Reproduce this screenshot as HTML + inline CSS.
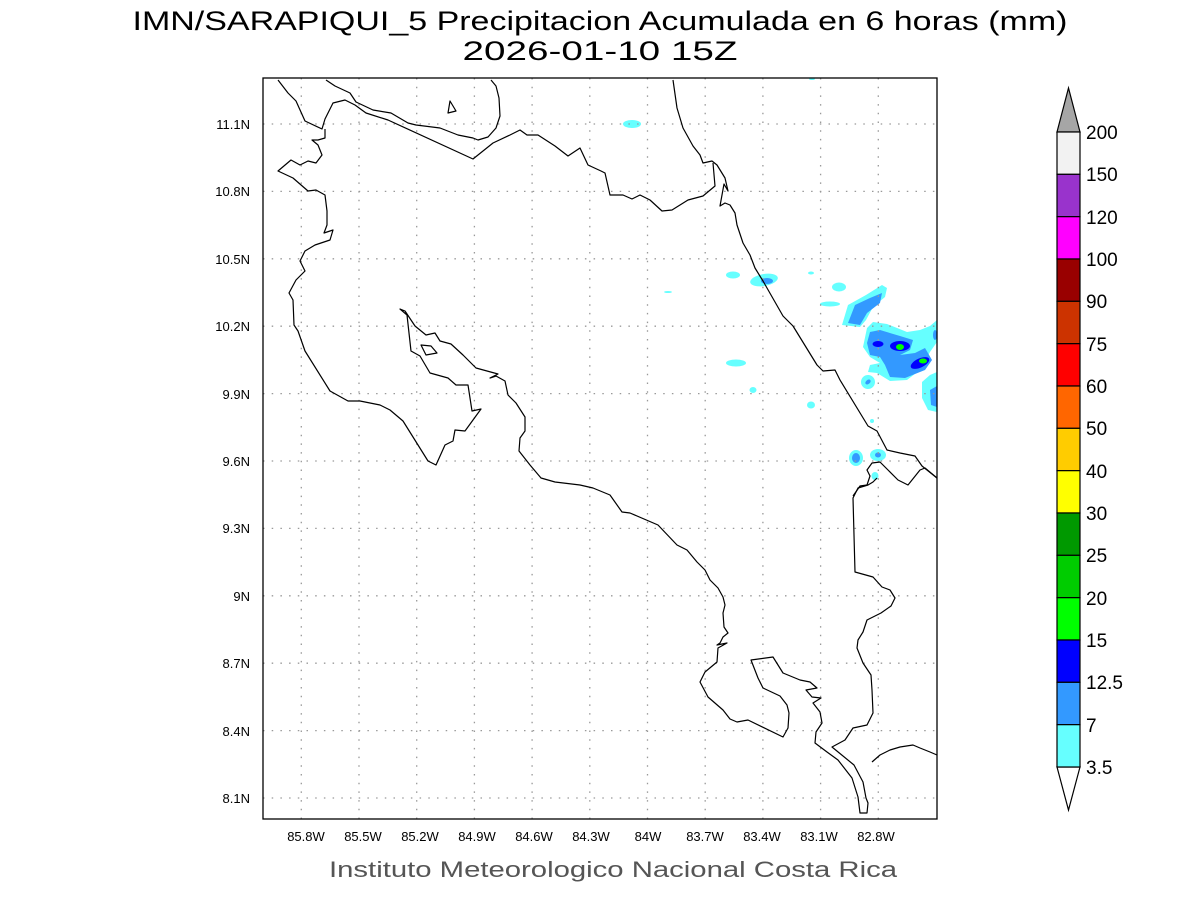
<!DOCTYPE html>
<html><head><meta charset="utf-8"><style>
html,body{margin:0;padding:0;background:#fff;width:1200px;height:900px;overflow:hidden}
svg{display:block}
</style></head><body>
<svg width="1200" height="900" viewBox="0 0 1200 900" xmlns="http://www.w3.org/2000/svg">
<rect width="1200" height="900" fill="#fff"/>
<g font-family="Liberation Sans, sans-serif" fill="#000">
<text x="600" y="30" font-size="27" text-anchor="middle" textLength="935" lengthAdjust="spacingAndGlyphs">IMN/SARAPIQUI_5 Precipitacion Acumulada en 6 horas (mm)</text>
<text x="600" y="60" font-size="27" text-anchor="middle" textLength="275" lengthAdjust="spacingAndGlyphs">2026-01-10 15Z</text>
</g>
<!-- precip -->
<g>
<g fill="#66ffff">
<ellipse cx="632" cy="124" rx="9" ry="4"/>
<ellipse cx="733" cy="275" rx="7" ry="3.5"/>
<ellipse cx="764" cy="280" rx="14" ry="6" transform="rotate(-10 764 280)"/>
<ellipse cx="839" cy="287" rx="7" ry="4.5"/>
<ellipse cx="830" cy="304" rx="10" ry="2.5"/>
<ellipse cx="811" cy="273" rx="3" ry="1.5"/>
<ellipse cx="668" cy="292" rx="4" ry="1"/>
<ellipse cx="736" cy="363" rx="10" ry="3.5"/>
<ellipse cx="753" cy="390" rx="3.5" ry="3"/>
<ellipse cx="811" cy="405" rx="4" ry="3.5"/>
<ellipse cx="856" cy="458" rx="7" ry="8"/>
<ellipse cx="878" cy="455" rx="8" ry="6"/>
<ellipse cx="875" cy="476" rx="3.5" ry="4"/>
<ellipse cx="872" cy="421" rx="2" ry="2"/>
<ellipse cx="812" cy="79" rx="3" ry="1"/>
<ellipse cx="868" cy="382" rx="7" ry="7" transform="rotate(-40 868 382)"/>
<polygon points="842,325 848,305 866,295 882,285 887,288 885,297 873,307 866,320 860,327"/>
<polygon points="863,347 867,328 873,322 887,324 907,332 920,330 930,326 937,320 937,342 930,352 920,370 907,380 890,381 877,373 868,372 870,365 880,363 870,357"/>
<polygon points="922,382 930,375 937,372 937,412 928,410 922,398"/>
</g>
<g fill="#3399ff">
<ellipse cx="767" cy="281" rx="6" ry="3"/>
<ellipse cx="856" cy="458" rx="4" ry="5"/>
<ellipse cx="878" cy="455" rx="3" ry="2.5"/>
<ellipse cx="868" cy="382" rx="3" ry="2" transform="rotate(-40 868 382)"/>
<polygon points="848,323 855,305 870,298 882,293 880,303 867,313 860,325"/>
<polygon points="867,343 870,332 880,330 900,336 913,340 910,350 900,355 915,353 925,348 932,360 925,370 905,378 890,377 885,365 880,357 870,355"/>
<polygon points="930,390 937,386 937,407 931,405"/>
<ellipse cx="935" cy="335" rx="2" ry="5"/>
</g>
<g fill="#0000ff">
<ellipse cx="878" cy="344" rx="5.5" ry="3"/>
<ellipse cx="900" cy="346" rx="10" ry="5"/>
<ellipse cx="920" cy="363" rx="10" ry="4.5" transform="rotate(-25 920 363)"/>
</g>
<g fill="#00ff00">
<ellipse cx="900" cy="347" rx="4" ry="3"/>
<ellipse cx="923" cy="361" rx="4" ry="2.5"/>
</g>
</g>
<!-- grid -->
<g stroke="#999" stroke-width="1.3" stroke-dasharray="1.5 7.2">
<line x1="301.3" y1="78" x2="301.3" y2="819"/>
<line x1="359" y1="78" x2="359" y2="819"/>
<line x1="416.7" y1="78" x2="416.7" y2="819"/>
<line x1="474.4" y1="78" x2="474.4" y2="819"/>
<line x1="532.1" y1="78" x2="532.1" y2="819"/>
<line x1="589.8" y1="78" x2="589.8" y2="819"/>
<line x1="647.5" y1="78" x2="647.5" y2="819"/>
<line x1="705.2" y1="78" x2="705.2" y2="819"/>
<line x1="762.9" y1="78" x2="762.9" y2="819"/>
<line x1="820.6" y1="78" x2="820.6" y2="819"/>
<line x1="878.3" y1="78" x2="878.3" y2="819"/>
<line x1="263" y1="124" x2="937" y2="124"/>
<line x1="263" y1="191.4" x2="937" y2="191.4"/>
<line x1="263" y1="258.8" x2="937" y2="258.8"/>
<line x1="263" y1="326.2" x2="937" y2="326.2"/>
<line x1="263" y1="393.6" x2="937" y2="393.6"/>
<line x1="263" y1="461" x2="937" y2="461"/>
<line x1="263" y1="528.4" x2="937" y2="528.4"/>
<line x1="263" y1="595.8" x2="937" y2="595.8"/>
<line x1="263" y1="663.2" x2="937" y2="663.2"/>
<line x1="263" y1="730.6" x2="937" y2="730.6"/>
<line x1="263" y1="798" x2="937" y2="798"/>
</g>
<!-- coastlines -->
<g fill="none" stroke="#000" stroke-width="1.2" stroke-linejoin="round">
<polyline points="326,80 335,86 350,93 356,102 373,110 391,113 408,123 416,125 440,128 458,135 473,138 478,140 488,137 496,128 500,116 499,98 496,86 491,80"/>
<polyline points="278,80 288,93 296,101 305,121 322,129 325,119 333,103 345,100 355,105 366,113 388,120 473,159 493,143 510,135 520,130 527,135 538,135 555,146 568,156 580,148 588,165 601,171 605,173 610,195 623,195 632,199 640,195 650,200 662,211 672,210 688,200 703,196 715,186 713,163"/>
<polyline points="673,80 677,108 683,128 693,146 700,155 703,163 712,161 717,165 725,178 728,191 724,184 720,206 725,203 730,205 735,213 737,225 743,243 750,255 755,268 763,281 783,316 793,326 817,365 823,371 835,370 840,380 868,426 877,431 887,450 900,453 915,456 922,466 937,478"/>
<polyline points="853,496 860,486 867,485 870,476 867,470 872,463 880,462 888,470 898,480 908,485 920,470 925,468 937,478"/>
<polyline points="325,129 325,138 318,140 312,140 318,145 322,155 316,163 308,161 300,165 291,160 278,171 293,178 308,191 316,190 325,195 327,211 327,225 324,233 333,230 330,240 315,245 305,251 300,261 305,271 296,280 289,293 293,300 294,325 298,331 305,351 330,391 348,401 360,401 380,405 390,410 403,421 428,461 436,465 445,445 453,441 455,430 465,431 481,409 472,411 468,385 456,385 448,378 430,373 420,356 411,351 407,315 400,309 405,311 415,326 426,335 435,333 440,341 451,344 463,355 476,368 498,374 490,378 496,376 505,381 508,395 516,403 525,417 525,431 520,438 519,451 530,465 541,478 555,482 580,485 593,488 610,495 622,512 630,513 658,525 677,545 687,550 697,562 705,570 710,580 718,588 723,597 725,605 723,613 724,627 728,633 723,637 720,643 717,645 727,643 718,648 717,662 705,672 700,682 708,697 723,710 730,719 737,722 748,720 783,737 788,728 789,713 787,705 780,696 763,688 758,678 751,660 773,657 783,673 800,680 810,682 817,688 806,690 812,697 821,698 813,703 820,712 822,723 816,732 815,743 827,752 838,760 852,778 858,797 860,813 867,813 868,803 866,798 863,782 854,765 832,747 845,740 853,728 867,725 873,713 872,690 871,675 863,663 857,648 858,640 863,632 867,620 881,613 891,606 895,598 890,590 882,587 873,577 855,572 853,498 858,488 868,485 873,482 877,478"/>
<polyline points="872,762 880,755 890,750 900,747 913,745 920,748 930,752 937,755"/>
<polygon points="448,113 450,101 456,111"/>
<polygon points="421,345 431,346 437,353 426,355"/>
</g>
<rect x="263" y="78" width="674" height="741" fill="none" stroke="#000" stroke-width="1.3"/>
<!-- axis labels -->
<g font-family="Liberation Sans, sans-serif" font-size="13" fill="#000" text-anchor="middle">
<text x="306" y="841">85.8W</text>
<text x="363" y="841">85.5W</text>
<text x="420" y="841">85.2W</text>
<text x="477" y="841">84.9W</text>
<text x="534" y="841">84.6W</text>
<text x="591" y="841">84.3W</text>
<text x="648" y="841">84W</text>
<text x="705" y="841">83.7W</text>
<text x="762" y="841">83.4W</text>
<text x="819" y="841">83.1W</text>
<text x="876" y="841">82.8W</text>
</g>
<g font-family="Liberation Sans, sans-serif" font-size="13" fill="#000" text-anchor="end">
<text x="250" y="129">11.1N</text>
<text x="250" y="196">10.8N</text>
<text x="250" y="264">10.5N</text>
<text x="250" y="331">10.2N</text>
<text x="250" y="399">9.9N</text>
<text x="250" y="466">9.6N</text>
<text x="250" y="533">9.3N</text>
<text x="250" y="601">9N</text>
<text x="250" y="668">8.7N</text>
<text x="250" y="736">8.4N</text>
<text x="250" y="803">8.1N</text>
</g>
<text x="613" y="877" font-family="Liberation Sans, sans-serif" font-size="22" fill="#555" text-anchor="middle" textLength="568" lengthAdjust="spacingAndGlyphs">Instituto Meteorologico Nacional Costa Rica</text>
<!-- colorbar -->
<g stroke="#000" stroke-width="1.2">
<polygon points="1057,132 1080,132 1068.5,88" fill="#a6a6a6"/>
<polygon points="1057,767 1080,767 1068.5,810" fill="#fff"/>
<rect x="1057" y="132" width="23" height="42.33" fill="#f2f2f2"/>
<rect x="1057" y="174.33" width="23" height="42.33" fill="#9933cc"/>
<rect x="1057" y="216.67" width="23" height="42.33" fill="#ff00ff"/>
<rect x="1057" y="259" width="23" height="42.33" fill="#990000"/>
<rect x="1057" y="301.33" width="23" height="42.33" fill="#cc3300"/>
<rect x="1057" y="343.67" width="23" height="42.33" fill="#ff0000"/>
<rect x="1057" y="386" width="23" height="42.33" fill="#ff6600"/>
<rect x="1057" y="428.33" width="23" height="42.33" fill="#ffcc00"/>
<rect x="1057" y="470.67" width="23" height="42.33" fill="#ffff00"/>
<rect x="1057" y="513" width="23" height="42.33" fill="#009900"/>
<rect x="1057" y="555.33" width="23" height="42.33" fill="#00cc00"/>
<rect x="1057" y="597.67" width="23" height="42.33" fill="#00ff00"/>
<rect x="1057" y="640" width="23" height="42.33" fill="#0000ff"/>
<rect x="1057" y="682.33" width="23" height="42.33" fill="#3399ff"/>
<rect x="1057" y="724.67" width="23" height="42.33" fill="#66ffff"/>
</g>
<g font-family="Liberation Sans, sans-serif" font-size="19" fill="#000">
<text x="1086" y="139">200</text>
<text x="1086" y="181">150</text>
<text x="1086" y="224">120</text>
<text x="1086" y="266">100</text>
<text x="1086" y="308">90</text>
<text x="1086" y="351">75</text>
<text x="1086" y="393">60</text>
<text x="1086" y="435">50</text>
<text x="1086" y="478">40</text>
<text x="1086" y="520">30</text>
<text x="1086" y="562">25</text>
<text x="1086" y="605">20</text>
<text x="1086" y="647">15</text>
<text x="1086" y="689">12.5</text>
<text x="1086" y="732">7</text>
<text x="1086" y="774">3.5</text>
</g>
</svg>
</body></html>
